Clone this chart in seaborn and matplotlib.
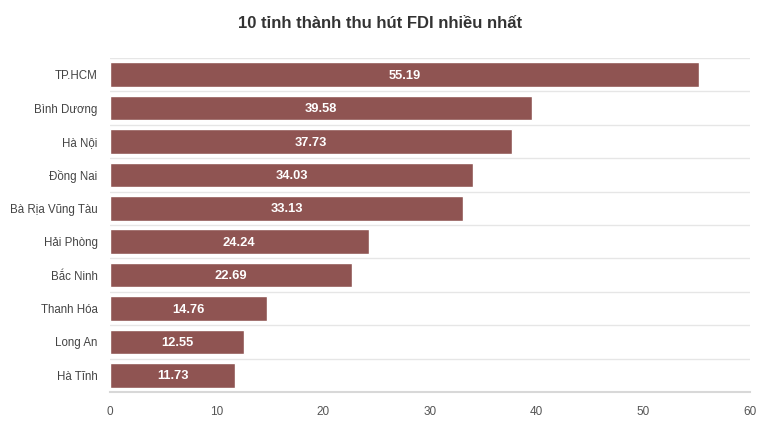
import matplotlib
matplotlib.use("Agg")
import matplotlib.pyplot as plt
import seaborn as sns
import pandas as pd

provinces = ["TP.HCM", "Bình Dương", "Hà Nội", "Đồng Nai", "Bà Rịa Vũng Tàu",
             "Hải Phòng", "Bắc Ninh", "Thanh Hóa", "Long An", "Hà Tĩnh"]
fdi = [55.19, 39.58, 37.73, 34.03, 33.13, 24.24, 22.69, 14.76, 12.55, 11.73]
x_ticks = [0, 10, 20, 30, 40, 50, 60]
title = "10 tỉnh thành thu hút FDI nhiều nhất"

df = pd.DataFrame({"province": provinces, "fdi": fdi})

sns.set_style("white")
plt.rcParams["font.family"] = ["Liberation Sans", "DejaVu Sans"]

fig = plt.figure(figsize=(7.6, 4.3), dpi=100)
ax = fig.add_axes([110 / 760, 38 / 430, 640 / 760, 334 / 430])

sns.barplot(data=df, x="fdi", y="province", color="#8f5452", saturation=1,
            width=0.74, orient="h", ax=ax, zorder=3)

# category separator lines
for i in range(len(provinces) + 1):
    ax.axhline(i - 0.5, color="#e6e6e6", lw=1, zorder=1)

ax.set_xlim(x_ticks[0], x_ticks[-1])
ax.set_ylim(len(provinces) - 0.5, -0.5)
ax.set_xticks(x_ticks)
ax.set_xlabel("")
ax.set_ylabel("")
for s in ["top", "right", "left"]:
    ax.spines[s].set_visible(False)
ax.spines["bottom"].set_color("#d8d8d8")
ax.spines["bottom"].set_linewidth(1.5)
ax.spines["bottom"].set_zorder(4)
ax.tick_params(axis="x", length=5, color="#d8d8d8", labelsize=8.5, labelcolor="#555555", pad=5)
ax.tick_params(axis="y", length=0, labelsize=8.3, labelcolor="#444444", pad=9)

for i, v in enumerate(fdi):
    ax.text(v / 2, i + 0.03, f"{v:.2f}", ha="center", va="center", color="white",
            fontsize=9.3, fontweight="bold", zorder=5)

fig.suptitle(title, y=0.963, fontsize=12, fontweight="bold", color="#333333")

fig.savefig("out.png", dpi=100, facecolor="white")
